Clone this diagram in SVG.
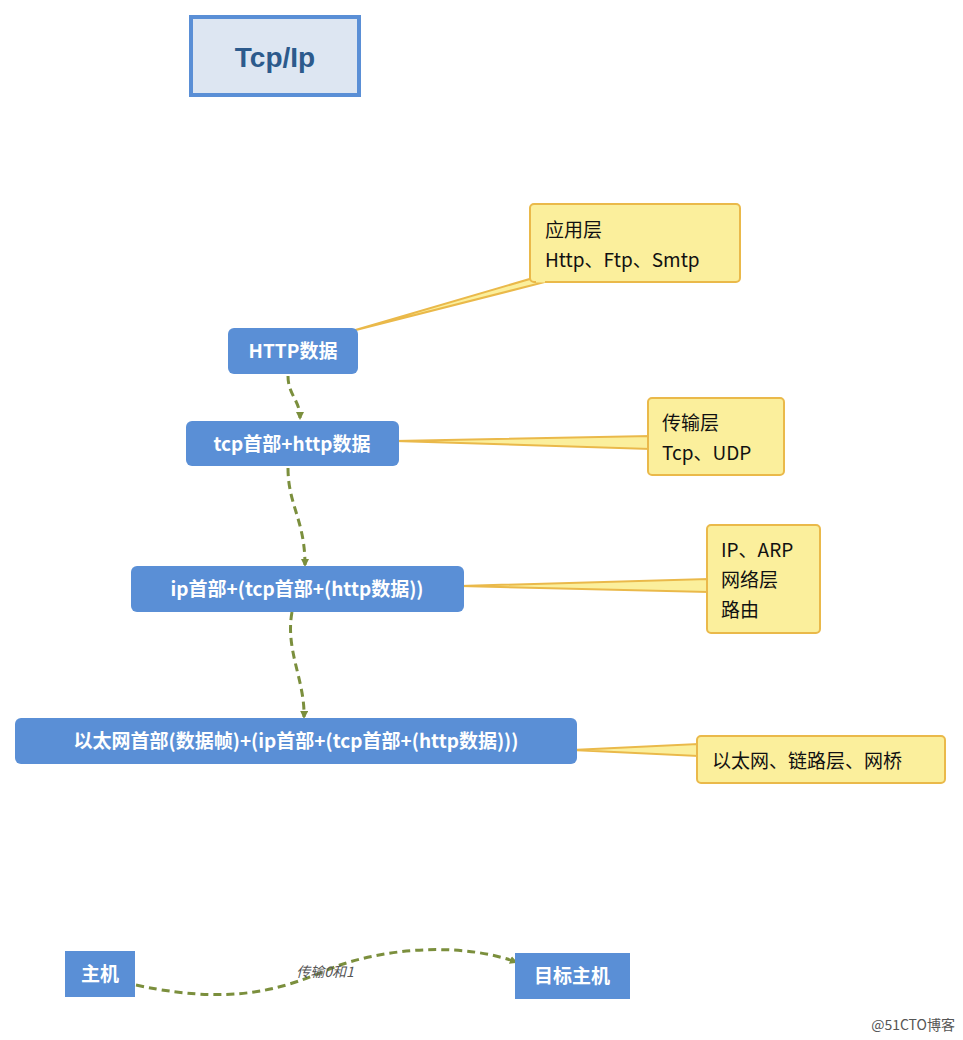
<svg xmlns="http://www.w3.org/2000/svg" width="963" height="1040" viewBox="0 0 963 1040">
<style>
.n{fill:#5a8fd6}
.nt{fill:#fff;font-family:"Noto Sans CJK SC","Liberation Sans",sans-serif;font-weight:bold;font-size:19px;text-anchor:middle}
.c{fill:#fbef9c;stroke:#eab94a;stroke-width:2}
.ct{fill:#111;font-family:"Noto Sans CJK SC","Liberation Sans",sans-serif;font-size:19px}
.e{fill:none;stroke:#7b8f3d;stroke-width:3;stroke-dasharray:8,5}
</style>
<defs><marker id="a" markerWidth="8" markerHeight="8" refX="6" refY="4" orient="auto" markerUnits="userSpaceOnUse" viewBox="0 0 8 8"><path d="M0,0L8,4L0,8z" fill="#7b8f3d"/></marker></defs>
<rect width="963" height="1040" fill="#fff"/>
<g id="title"><rect x="191" y="17" width="168" height="78" fill="#dde6f2" stroke="#5a8fd6" stroke-width="4"/><text x="275" y="67" text-anchor="middle" font-family="Liberation Sans,sans-serif" font-weight="bold" font-size="28" fill="#2c5a8c">Tcp/Ip</text></g>
<g id="edges">
<path class="e" d="M288,376 C288,395 300,400 300,418" marker-end="url(#a)"/>
<path class="e" d="M288,468 C288,505 305,520 305,565" marker-end="url(#a)"/>
<path class="e" d="M292,612 C285,650 305,680 304,717" marker-end="url(#a)"/>
<path class="e" d="M136,985 C250,1010 300,980 340,965 C400,945 470,945 516,962" marker-end="url(#a)"/>
<text x="325" y="977" text-anchor="middle" font-family="Noto Sans CJK SC,Liberation Sans,sans-serif" font-style="italic" font-size="14" fill="#555">传输0和1</text>
</g>
<g id="c1"><polygon class="c" points="352,331 540,276 545,282"/><rect class="c" x="530" y="204" width="210" height="78" rx="4"/><path d="M536,281 L545,281" stroke="#fbef9c" stroke-width="3"/><text class="ct" x="545" y="237">应用层</text><text class="ct" x="545" y="267">Http、Ftp、Smtp</text></g>
<g id="c2"><polygon class="c" points="395,441 650,436 650,449"/><rect class="c" x="648" y="398" width="136" height="77" rx="4"/><text class="ct" x="662" y="430">传输层</text><text class="ct" x="662" y="460">Tcp、UDP</text></g>
<g id="c3"><polygon class="c" points="460,586 708,579 708,592"/><rect class="c" x="707" y="525" width="113" height="108" rx="4"/><text class="ct" x="721" y="557">IP、ARP</text><text class="ct" x="721" y="587">网络层</text><text class="ct" x="721" y="617">路由</text></g>
<g id="c4"><polygon class="c" points="572,750 698,744 698,756"/><rect class="c" x="697" y="736" width="248" height="47" rx="4"/><text class="ct" x="712" y="768">以太网、链路层、网桥</text></g>
<g id="n1"><rect class="n" x="228" y="328" width="130" height="46" rx="6"/><text class="nt" x="293" y="358">HTTP数据</text></g>
<g id="n2"><rect class="n" x="186" y="421" width="213" height="45" rx="6"/><text class="nt" x="292" y="451">tcp首部+http数据</text></g>
<g id="n3"><rect class="n" x="131" y="566" width="333" height="46" rx="6"/><text class="nt" x="297" y="596">ip首部+(tcp首部+(http数据))</text></g>
<g id="n4"><rect class="n" x="15" y="718" width="562" height="46" rx="6"/><text class="nt" x="296" y="748">以太网首部(数据帧)+(ip首部+(tcp首部+(http数据)))</text></g>
<g id="n5"><rect class="n" x="65" y="951" width="70" height="46"/><text class="nt" x="100" y="981">主机</text></g>
<g id="n6"><rect class="n" x="515" y="953" width="115" height="46"/><text class="nt" x="572" y="983">目标主机</text></g>
<text x="955" y="1030" text-anchor="end" font-family="Noto Sans CJK SC,Liberation Sans,sans-serif" font-size="14" fill="#555">@51CTO博客</text>
</svg>
